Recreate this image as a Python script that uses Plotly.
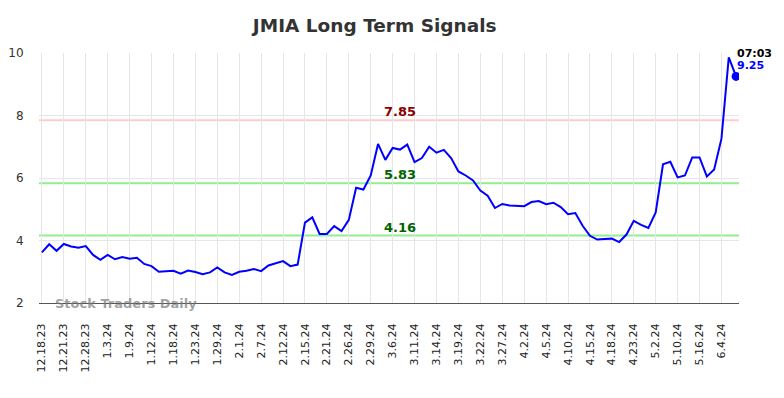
import plotly.graph_objects as go

title_text = "JMIA Long Term Signals"
tick_labels = ["12.18.23", "12.21.23", "12.28.23", "1.3.24", "1.9.24", "1.12.24", "1.18.24",
               "1.23.24", "1.29.24", "2.1.24", "2.7.24", "2.12.24", "2.15.24", "2.21.24",
               "2.26.24", "2.29.24", "3.6.24", "3.11.24", "3.14.24", "3.19.24", "3.22.24",
               "3.27.24", "4.2.24", "4.5.24", "4.10.24", "4.15.24", "4.18.24", "4.23.24",
               "5.2.24", "5.10.24", "5.16.24", "6.4.24"]
prices = [3.62, 3.88, 3.67, 3.89, 3.81, 3.77, 3.82, 3.54, 3.38, 3.54,
          3.40, 3.47, 3.42, 3.45, 3.25, 3.18, 3.00, 3.02, 3.03, 2.94,
          3.04, 2.99, 2.92, 2.98, 3.14, 2.98, 2.90, 3.00, 3.03, 3.09,
          3.02, 3.20, 3.26, 3.34, 3.18, 3.23, 4.57, 4.74, 4.21, 4.21,
          4.46, 4.30, 4.66, 5.69, 5.63, 6.08, 7.09, 6.58, 6.96, 6.91,
          7.07, 6.51, 6.64, 7.00, 6.81, 6.90, 6.64, 6.21, 6.08, 5.92,
          5.60, 5.43, 5.04, 5.17, 5.12, 5.11, 5.10, 5.23, 5.26, 5.16,
          5.21, 5.07, 4.84, 4.88, 4.47, 4.15, 4.03, 4.05, 4.06, 3.95,
          4.19, 4.63, 4.50, 4.40, 4.90, 6.44, 6.52, 6.02, 6.08, 6.66,
          6.66, 6.05, 6.27, 7.26, 9.86, 9.25]
resistance = 7.85
support_levels = [5.83, 4.16]
last_time = "07:03"
last_label = "9.25"
watermark = "Stock Traders Daily"

x = list(range(len(prices)))
tickvals = list(range(0, len(prices), 3))[:len(tick_labels)]
font_family = "DejaVu Sans"

fig = go.Figure()
fig.add_trace(go.Scatter(x=x, y=prices, mode="lines",
                         line=dict(color="#0000FF", width=2), hoverinfo="skip"))
fig.add_trace(go.Scatter(x=[x[-1]], y=[prices[-1]], mode="markers",
                         marker=dict(color="#0000FF", size=9), hoverinfo="skip"))

fig.add_hline(y=resistance, line=dict(color="rgba(255,0,0,0.2)", width=2), layer="below")
for lvl in support_levels:
    fig.add_hline(y=lvl, line=dict(color="#90EE90", width=2), layer="below")

label_x = 49
fig.add_annotation(x=label_x, y=resistance, text=f"<b>{resistance:.2f}</b>", showarrow=False,
                   yanchor="bottom", yshift=-1, font=dict(color="#8B0000", size=13, family=font_family))
for lvl in support_levels:
    fig.add_annotation(x=label_x, y=lvl, text=f"<b>{lvl:.2f}</b>", showarrow=False,
                       yanchor="bottom", yshift=-1, font=dict(color="#006400", size=13, family=font_family))

fig.add_annotation(x=x[-1], y=10, text=f"<b>{last_time}</b>", showarrow=False,
                   xanchor="left", yanchor="middle", xshift=-1,
                   font=dict(color="#000000", size=11, family=font_family))
fig.add_annotation(x=x[-1], y=9.59, text=f"<b>{last_label}</b>", showarrow=False,
                   xanchor="left", yanchor="middle", xshift=-1,
                   font=dict(color="#0000FF", size=11, family=font_family))

fig.add_annotation(xref="paper", yref="paper", x=0.02, y=0.0, text=f"<b>{watermark}</b>",
                   showarrow=False, xanchor="left", yanchor="middle",
                   font=dict(color="rgba(120,120,120,0.7)", size=13, family=font_family))

fig.update_layout(
    width=784, height=398,
    margin=dict(l=39, r=45, t=53, b=95),
    paper_bgcolor="white", plot_bgcolor="white",
    showlegend=False,
    title=dict(text=f"<b>{title_text}</b>", x=0.478, xanchor="center", y=0.935, yanchor="middle",
               font=dict(size=18.5, color="#333333", family=font_family)),
    font=dict(family=font_family, color="#333333"),
)
fig.update_xaxes(range=[-0.4, 95.4], tickmode="array", tickvals=tickvals, ticktext=tick_labels,
                 tickangle=-90, tickfont=dict(size=11, color="#222222"), automargin=False,
                 showgrid=True, gridcolor="#E6E6E6", gridwidth=1,
                 showline=True, linecolor="#555555", linewidth=1,
                 ticks="outside", ticklen=15, tickcolor="rgba(0,0,0,0)", zeroline=False)
fig.update_yaxes(range=[2, 10], tickvals=[2, 4, 6, 8, 10], tickfont=dict(size=12, color="#333333"),
                 automargin=False,
                 showgrid=True, gridcolor="#E6E6E6", gridwidth=1, zeroline=False,
                 ticks="outside", ticklen=12, tickcolor="rgba(0,0,0,0)")

fig.write_html("out.html", config={"displayModeBar": False},
               post_script="document.body.style.margin='0';document.body.style.padding='0';")
